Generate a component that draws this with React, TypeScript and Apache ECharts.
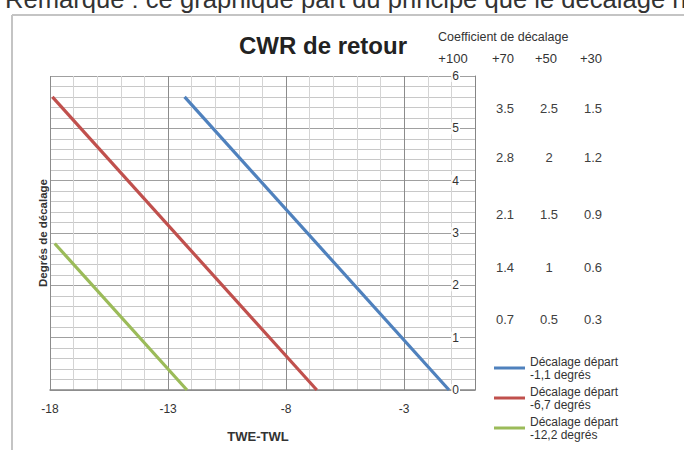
import React, { useEffect, useRef } from "react";
import * as echarts from "echarts";

// ---- data ----
const xLabelValues = [-18, -13, -8, -3];
const seriesNames = [
  "Décalage départ\n-1,1 degrés",
  "Décalage départ\n-6,7 degrés",
  "Décalage départ\n-12,2 degrés",
];
const blueLine = [
  [-12.3, 5.6],
  [-1.1, 0],
];
const redLine = [
  [-17.9, 5.6],
  [-6.7, 0],
];
const greenLine = [
  [-17.8, 2.8],
  [-12.2, 0],
];
const seriesColors = ["#4F81BD", "#C0504D", "#9BBB59"];
const coefficientHeaders = ["+100", "+70", "+50", "+30"];
const coefficientRows = [
  ["3.5", "2.5", "1.5"],
  ["2.8", "2", "1.2"],
  ["2.1", "1.5", "0.9"],
  ["1.4", "1", "0.6"],
  ["0.7", "0.5", "0.3"],
];

const FONT = "'Liberation Sans', Arial, sans-serif";

export default function App() {
  const ref = useRef<HTMLDivElement>(null);

  useEffect(() => {
    if (!ref.current) return;
    const chart = echarts.init(ref.current, undefined, { renderer: "svg" });

    const headerX = [453, 503, 546, 591];
    const colX = [505, 549, 593];
    const rowY = [108, 157, 214, 267, 319];

    const graphics: any[] = [
      {
        type: "text",
        x: 5,
        y: -1,
        style: {
          text: "Remarque : ce graphique part du principe que le décalage n",
          fontFamily: FONT,
          fontSize: 25.6,
          fill: "#333",
          verticalAlign: "middle",
          align: "left",
        },
      },
      {
        type: "line",
        shape: { x1: 12, y1: 15, x2: 684, y2: 15 },
        style: { stroke: "#c4c4c4", lineWidth: 2 },
      },
      {
        type: "line",
        shape: { x1: 12, y1: 15, x2: 12, y2: 450 },
        style: { stroke: "#c4c4c4", lineWidth: 2 },
      },
      {
        type: "text",
        x: 323,
        y: 45,
        style: {
          text: "CWR de retour",
          fontFamily: FONT,
          fontSize: 24,
          fontWeight: "bold",
          fill: "#222",
          align: "center",
          verticalAlign: "middle",
        },
      },
      {
        type: "text",
        x: 438,
        y: 37,
        style: {
          text: "Coefficient de décalage",
          fontFamily: FONT,
          fontSize: 12.5,
          fill: "#333",
          align: "left",
          verticalAlign: "middle",
        },
      },
      {
        type: "text",
        x: 258,
        y: 436,
        style: {
          text: "TWE-TWL",
          fontFamily: FONT,
          fontSize: 13,
          fontWeight: "bold",
          fill: "#333",
          align: "center",
          verticalAlign: "middle",
        },
      },
      {
        type: "text",
        x: 43,
        y: 233,
        rotation: Math.PI / 2,
        style: {
          text: "Degrés de décalage",
          fontFamily: FONT,
          fontSize: 11.5,
          fontWeight: "bold",
          fill: "#333",
          align: "center",
          verticalAlign: "middle",
        },
      },
    ];

    coefficientHeaders.forEach((h, i) => {
      graphics.push({
        type: "text",
        x: headerX[i],
        y: 58,
        style: {
          text: h,
          fontFamily: FONT,
          fontSize: 13,
          fill: "#333",
          align: "center",
          verticalAlign: "middle",
        },
      });
    });
    coefficientRows.forEach((row, r) => {
      row.forEach((v, c) => {
        graphics.push({
          type: "text",
          x: colX[c],
          y: rowY[r],
          style: {
            text: v,
            fontFamily: FONT,
            fontSize: 13,
            fill: "#404040",
            align: "center",
            verticalAlign: "middle",
          },
        });
      });
    });

    const mkSeries = (name: string, data: number[][], color: string) => ({
      type: "line",
      name,
      data,
      symbol: "none",
      lineStyle: { color, width: 3.2 },
      itemStyle: { color },
    });

    chart.setOption({
      animation: false,
      grid: { left: 50, right: 209, top: 76, bottom: 60, containLabel: false },
      xAxis: {
        type: "value",
        min: -18,
        max: 0,
        interval: 1,
        axisLine: { show: true, lineStyle: { color: "#868686", width: 1.5 } },
        axisTick: { show: false },
        axisLabel: {
          margin: 13,
          fontFamily: FONT,
          fontSize: 12,
          color: "#333",
          formatter: (v: number) => (xLabelValues.includes(Math.round(v)) && Math.abs(v - Math.round(v)) < 1e-6 ? String(Math.round(v)) : ""),
        },
        splitLine: {
          show: true,
          lineStyle: {
            color: ["#8c8c8c", "#d4d4d4", "#d4d4d4", "#d4d4d4", "#d4d4d4"],
            width: 1,
          },
        },
      },
      yAxis: {
        type: "value",
        min: 0,
        max: 6,
        interval: 1,
        position: "right",
        axisLine: { show: true, lineStyle: { color: "#868686", width: 1 } },
        axisTick: { show: false },
        axisLabel: {
          inside: true,
          margin: 15,
          fontFamily: FONT,
          fontSize: 12,
          color: "#333",
          backgroundColor: "#fff",
          padding: [0, 1],
        },
        splitLine: { show: true, lineStyle: { color: "#a0a0a0", width: 1 } },
        minorTick: { show: false, splitNumber: 5 },
        minorSplitLine: { show: true, lineStyle: { color: "#c8c8c8", width: 1 } },
      },
      legend: {
        orient: "vertical",
        left: 494,
        top: 355,
        icon: "rect",
        itemWidth: 31,
        itemHeight: 3,
        itemGap: 4,
        padding: 0,
        textStyle: { fontFamily: FONT, fontSize: 12, color: "#333", lineHeight: 13 },
        data: seriesNames,
      },
      series: [
        mkSeries(seriesNames[0], blueLine, seriesColors[0]),
        mkSeries(seriesNames[1], redLine, seriesColors[1]),
        mkSeries(seriesNames[2], greenLine, seriesColors[2]),
      ],
      graphic: graphics,
    });

    return () => chart.dispose();
  }, []);

  return (
    <div
      ref={ref}
      style={{ position: "fixed", left: 0, top: 0, width: 684, height: 450, background: "#fff" }}
    />
  );
}
